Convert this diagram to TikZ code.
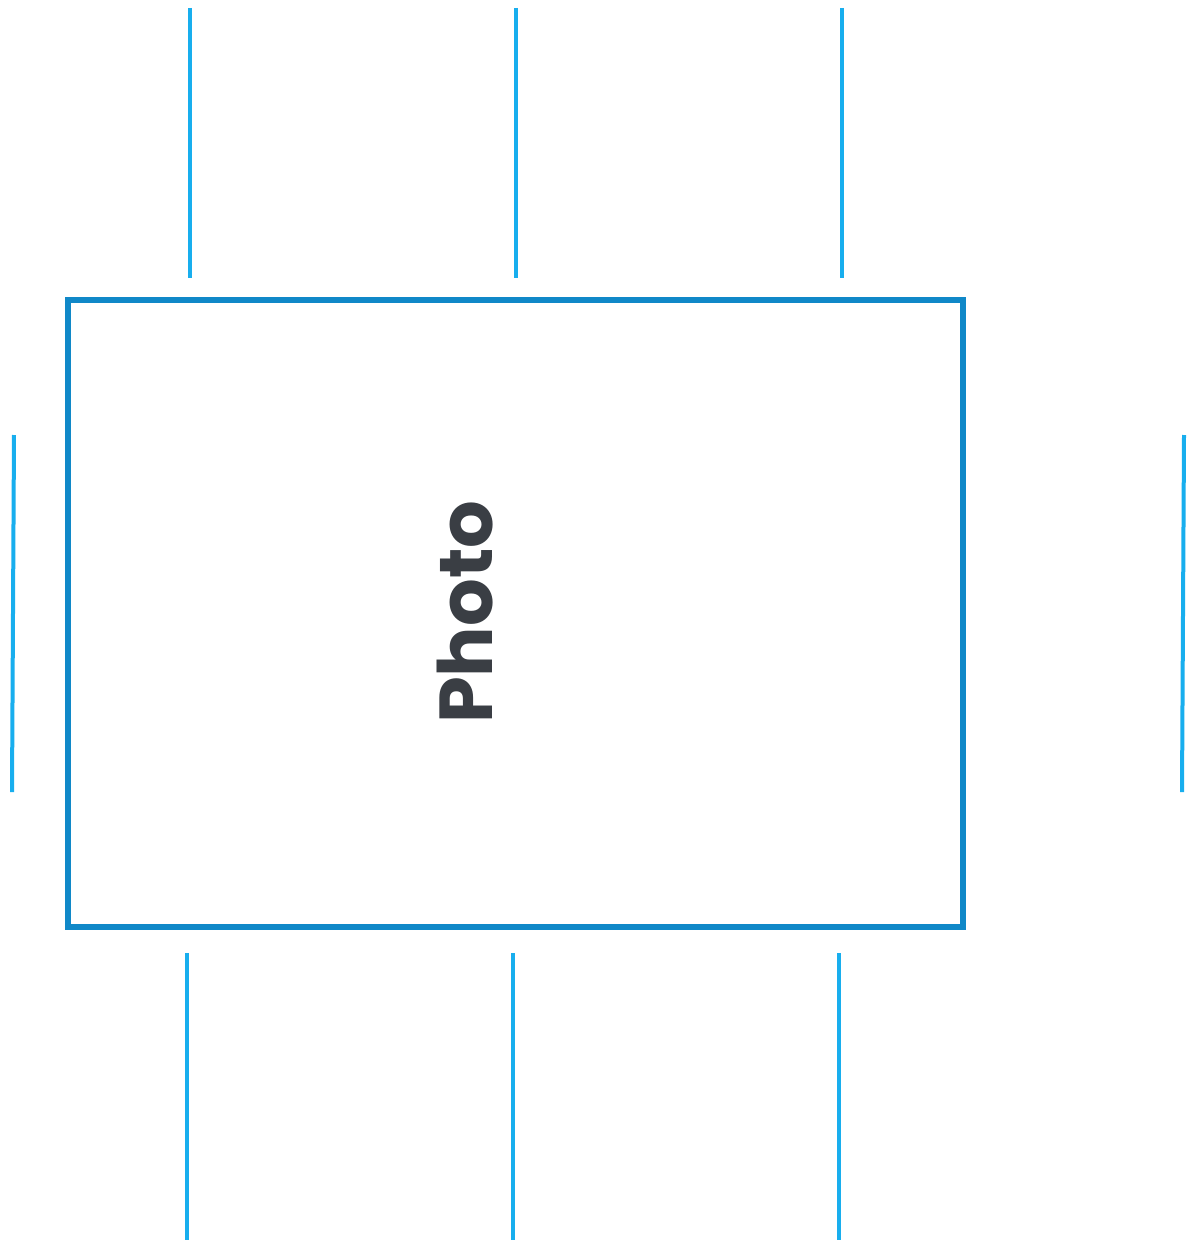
\documentclass[tikz,border=0pt]{standalone}
\usepackage{fontspec}
\setmainfont{Poppins}
\usepackage{tikz}
\usetikzlibrary{positioning, calc}
\definecolor{framblue}{RGB}{16, 136, 200}
\definecolor{guideblue}{RGB}{24, 174, 238}
\definecolor{labelgray}{RGB}{58, 62, 68}

\begin{document}
\begin{tikzpicture}[x=1pt, y=-1pt,
    guide/.style={guideblue, line width=4pt},
    frame/.style={draw=framblue, line width=6pt, fill=white},
    every node/.style={font=\bfseries}]
  \useasboundingbox (0,0) rectangle (1192,1247);

  % Photo frame
  \node[frame, minimum width=895pt, minimum height=627pt, inner sep=0pt] (photo) at (515.5,613.5) {};
  \node[labelgray, rotate=90, anchor=base west, inner sep=0pt,
        font=\fontsize{75}{77}\selectfont\bfseries] (label) at (492,724) {Photo};

  % Guide lines above
  \foreach \gx [count=\i] in {190,516,842} {
    \coordinate (top\i a) at (\gx,8);
    \coordinate (top\i b) at (\gx,278);
    \draw[guide] (top\i a) -- (top\i b);
  }
  % Guide lines below
  \foreach \gx [count=\i] in {187,513,839} {
    \coordinate (bot\i a) at (\gx,953);
    \coordinate (bot\i b) at (\gx,1240);
    \draw[guide] (bot\i a) -- (bot\i b);
  }
  % Side guides
  \coordinate (lefta) at (14,435);
  \coordinate (leftb) at (12,792);
  \coordinate (righta) at (1184,435);
  \coordinate (rightb) at (1182,792);
  \draw[guide] (lefta) -- (leftb);
  \draw[guide] (righta) -- (rightb);
\end{tikzpicture}
\end{document}
